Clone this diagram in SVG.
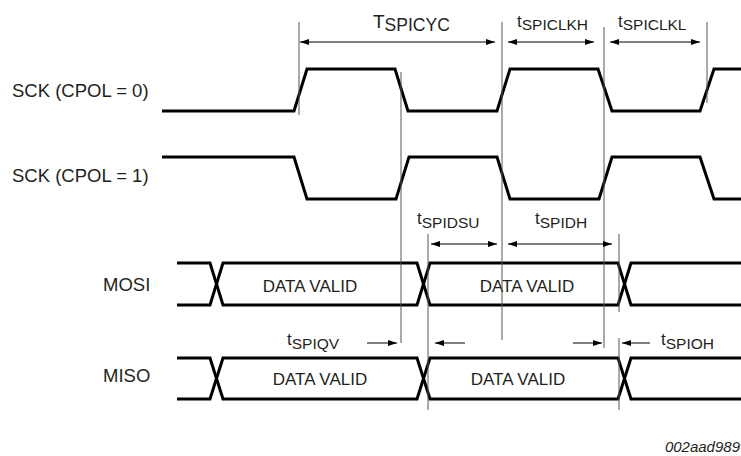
<svg xmlns="http://www.w3.org/2000/svg" width="741" height="456" viewBox="0 0 741 456">
<defs>
<marker id="ah" viewBox="0 0 9 6" refX="9" refY="3" markerWidth="9" markerHeight="6" markerUnits="userSpaceOnUse" orient="auto-start-reverse">
<path d="M0,0 L9,3 L0,6 z" fill="#000"/>
</marker>
<style>
text{font-family:"Liberation Sans",Arial,sans-serif;fill:#231f20}
.lbl{font-size:18.5px}
.dv{font-size:17px;text-anchor:middle}
.t{font-size:17px}
.sub{font-size:15.5px}
.sig{fill:none;stroke:#000;stroke-width:3;stroke-linejoin:miter}
.ref{fill:none;stroke:#555;stroke-width:1}
.arr{fill:none;stroke:#000;stroke-width:1}
</style>
</defs>
<rect width="741" height="456" fill="#fff"/>

<g id="labels">
<text class="lbl" x="12" y="97">SCK (CPOL = 0)</text>
<text class="lbl" x="12" y="182">SCK (CPOL = 1)</text>
<text class="lbl" x="103" y="291">MOSI</text>
<text class="lbl" x="103" y="382">MISO</text>
</g>

<g id="sck0"><path class="sig" d="M162,111 H294 L307,69 H395 L408,111 H497 L510,69 H598 L612,111 H700 L714,69 H741"/></g>
<g id="sck1"><path class="sig" d="M162,157 H294 L307,199 H396 L409,157 H497 L510,199 H599 L612,157 H700 L714,199 H741"/></g>

<g id="mosi">
<path class="sig" d="M177,263 H210 L223,305 H417 L430,263 H618 L631,305 H741"/>
<path class="sig" d="M177,305 H210 L223,263 H417 L430,305 H618 L631,263 H741"/>
<text class="dv" x="310" y="292">DATA VALID</text>
<text class="dv" x="527" y="292">DATA VALID</text>
</g>

<g id="miso">
<path class="sig" d="M177,358 H210 L223,399 H417 L430,358 H618 L631,399 H741"/>
<path class="sig" d="M177,399 H210 L223,358 H417 L430,399 H618 L631,358 H741"/>
<text class="dv" x="320" y="385">DATA VALID</text>
<text class="dv" x="518" y="385">DATA VALID</text>
</g>

<g id="connectors">
<line class="ref" x1="299" y1="22" x2="299" y2="115"/>
<line class="ref" x1="401" y1="72" x2="401" y2="343"/>
<line class="ref" x1="502" y1="22" x2="502" y2="340"/>
<line class="ref" x1="604" y1="27" x2="604" y2="348"/>
<line class="ref" x1="707" y1="22" x2="707" y2="103"/>
<line class="ref" x1="428" y1="234" x2="428" y2="410"/>
<line class="ref" x1="619" y1="234" x2="619" y2="312"/>
<line class="ref" x1="619" y1="338" x2="619" y2="410"/>

<line class="arr" x1="300" y1="42" x2="495" y2="42" marker-start="url(#ah)" marker-end="url(#ah)"/>
<line class="arr" x1="508" y1="42" x2="594" y2="42" marker-start="url(#ah)" marker-end="url(#ah)"/>
<line class="arr" x1="610" y1="42" x2="700" y2="42" marker-start="url(#ah)" marker-end="url(#ah)"/>
<line class="arr" x1="431" y1="244" x2="497" y2="244" marker-start="url(#ah)" marker-end="url(#ah)"/>
<line class="arr" x1="508" y1="244" x2="612" y2="244" marker-start="url(#ah)" marker-end="url(#ah)"/>
<line class="arr" x1="367" y1="343" x2="397" y2="343" marker-end="url(#ah)"/>
<line class="arr" x1="465" y1="343" x2="435" y2="343" marker-end="url(#ah)"/>
<line class="arr" x1="573" y1="343" x2="602" y2="343" marker-end="url(#ah)"/>
<line class="arr" x1="650" y1="343" x2="622" y2="343" marker-end="url(#ah)"/>
</g>

<g id="timing-labels">
<text x="373" y="28"><tspan style="font-size:19px">T</tspan><tspan style="font-size:17.5px" dy="3">SPICYC</tspan></text>
<text x="517" y="27"><tspan class="t">t</tspan><tspan class="sub" dy="3">SPICLKH</tspan></text>
<text x="618" y="27"><tspan class="t">t</tspan><tspan class="sub" dy="3">SPICLKL</tspan></text>
<text x="417" y="224"><tspan class="t">t</tspan><tspan class="sub" dy="4">SPIDSU</tspan></text>
<text x="535" y="224"><tspan class="t">t</tspan><tspan class="sub" dy="4">SPIDH</tspan></text>
<text x="287" y="345"><tspan class="t">t</tspan><tspan class="sub" dy="4">SPIQV</tspan></text>
<text x="661" y="345"><tspan class="t">t</tspan><tspan class="sub" dy="4">SPIOH</tspan></text>
</g>

<text x="740" y="452" style="font-size:15px;font-style:italic;text-anchor:end">002aad989</text>
</svg>
